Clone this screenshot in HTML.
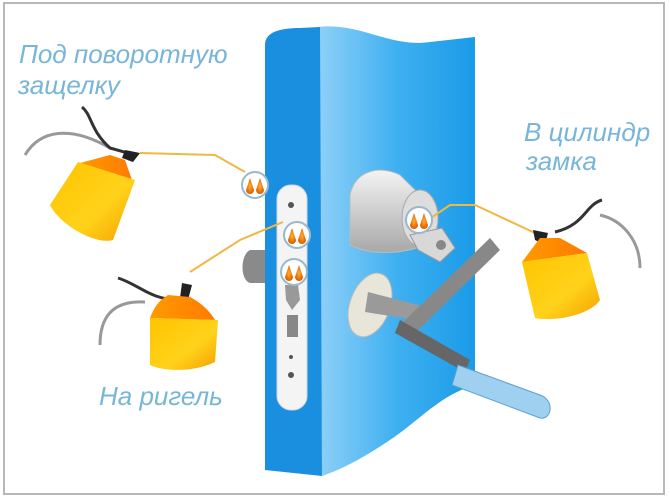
<!DOCTYPE html>
<html><head><meta charset="utf-8"><style>
html,body{margin:0;padding:0;background:#fff;}
svg{display:block;}
text{font-family:"Liberation Sans",sans-serif;font-style:italic;fill:#78b6d8;font-size:26px;}
</style></head><body>
<svg width="670" height="498" viewBox="0 0 670 498" xmlns="http://www.w3.org/2000/svg">
<defs>
<linearGradient id="face" x1="0" x2="1" y1="0" y2="0"><stop offset="0" stop-color="#8fd0f8"/><stop offset="0.5" stop-color="#3fb0f0"/><stop offset="1" stop-color="#1a9be8"/></linearGradient>
<linearGradient id="can" x1="0" x2="1" y1="0" y2="1"><stop offset="0" stop-color="#ffc400"/><stop offset="0.6" stop-color="#ffd21a"/><stop offset="1" stop-color="#f5a000"/></linearGradient>
<linearGradient id="top" x1="0" x2="1"><stop offset="0" stop-color="#ff9a00"/><stop offset="1" stop-color="#ff7a00"/></linearGradient>
<linearGradient id="metal" x1="0" x2="0" y1="0" y2="1"><stop offset="0" stop-color="#f4f4f4"/><stop offset="1" stop-color="#a8a8a8"/></linearGradient>
<radialGradient id="drop"><stop offset="0" stop-color="#ffb030"/><stop offset="1" stop-color="#e06000"/></radialGradient>
<g id="drops"><circle r="13" fill="#fff" stroke="#9ab8cc" stroke-width="2"/><path d="M-5,-7 L-1,5 A4,4 0 0 1 -9,5 Z" fill="url(#drop)"/><path d="M5,-7 L9,5 A4,4 0 0 1 1,5 Z" fill="url(#drop)"/></g>
</defs>
<rect x="0" y="0" width="670" height="498" fill="#fff"/>
<rect x="4" y="3" width="660" height="491" fill="none" stroke="#b8b8b8" stroke-width="2"/>
<path d="M318,27 C360,22 390,48 430,42 L475,37 L475,385 C440,395 420,420 390,440 C360,460 340,470 322,476 Z" fill="url(#face)"/>
<path d="M265,45 C265,32 280,28 300,28 L320,27 L322,476 L265,470 Z" fill="#1a8fe0"/>
<rect x="277" y="185" width="30" height="225" rx="14" fill="#f4f4f4" stroke="#cfd8e0"/>
<circle cx="291" cy="205" r="3" fill="#555"/><circle cx="291" cy="357" r="2" fill="#555"/><circle cx="291" cy="375" r="3" fill="#555"/>
<path d="M285,285 L298,285 L300,300 L292,310 L286,300 Z" fill="#999"/>
<rect x="287" y="315" width="11" height="22" fill="#888"/>
<path d="M250,250 C240,255 240,280 250,283 L265,283 L265,250 Z" fill="#8a8a8a"/>
<path d="M350,195 C355,170 380,165 400,175 L415,190 L425,245 C400,255 370,255 350,245 Z" fill="url(#metal)" stroke="#bbb"/>
<ellipse cx="420" cy="218" rx="18" ry="28" fill="#ddd" stroke="#aaa"/>
<path d="M410,235 L442,228 L455,248 L440,262 L418,250 Z" fill="#d8d8d8" stroke="#999"/>
<circle cx="441" cy="245" r="5" fill="#888"/>
<ellipse cx="370" cy="305" rx="20" ry="33" transform="rotate(20 370 305)" fill="#e8e6d8" stroke="#bbb"/>
<path d="M368,292 L430,308 L428,322 L365,312 Z" fill="#9a9a9a"/>
<path d="M395,330 L490,238 L500,250 L410,338 Z" fill="#888"/>
<path d="M400,320 L470,360 L465,372 L395,333 Z" fill="#666"/>
<path d="M458,365 L540,395 C555,400 552,420 540,418 L452,385 Z" fill="#9fd0f0" stroke="#5aa0d0"/>
<polyline points="140,153 215,155 245,172" fill="none" stroke="#f0b840" stroke-width="2"/>
<polyline points="190,272 240,240 283,222" fill="none" stroke="#f0b840" stroke-width="2"/>
<polyline points="425,222 450,205 475,205 535,233" fill="none" stroke="#f0b840" stroke-width="2"/>
<use href="#drops" x="255" y="185"/>
<use href="#drops" x="297" y="235"/>
<use href="#drops" x="294" y="272"/>
<use href="#drops" x="419" y="220"/>
<path d="M25,155 C40,130 70,125 110,148" fill="none" stroke="#999" stroke-width="3"/>
<path d="M82,107 C92,115 90,130 110,148 L135,155" fill="none" stroke="#333" stroke-width="3"/>
<path d="M125,150 L140,153 L133,162 L122,158 Z" fill="#222"/>
<path d="M110,155 L125,160 L132,180 L80,163 Z" fill="url(#top)"/>
<path d="M78,162 L135,180 L113,240 C95,245 60,225 50,205 Z" fill="url(#can)"/>
<path d="M100,345 C100,320 110,300 145,302" fill="none" stroke="#999" stroke-width="3"/>
<path d="M118,278 C140,285 150,300 180,300" fill="none" stroke="#333" stroke-width="3"/>
<path d="M182,283 L192,285 L188,300 L180,298 Z" fill="#222"/>
<path d="M168,295 L190,297 C205,305 212,315 215,320 L150,318 C155,305 160,300 168,295 Z" fill="url(#top)"/>
<path d="M150,318 L218,320 L215,362 C195,372 165,372 150,365 Z" fill="url(#can)"/>
<path d="M600,215 C622,220 640,240 640,268" fill="none" stroke="#999" stroke-width="3"/>
<path d="M602,200 C585,205 585,225 555,232" fill="none" stroke="#333" stroke-width="3"/>
<path d="M533,230 L548,233 L545,245 L535,240 Z" fill="#222"/>
<path d="M540,238 L560,238 L587,253 L522,262 Z" fill="url(#top)"/>
<path d="M522,262 L587,253 L600,300 C590,315 555,322 535,318 Z" fill="url(#can)"/>
<text x="19" y="63">Под поворотную</text>
<text x="18" y="94">защелку</text>
<text x="524" y="141">В цилиндр</text>
<text x="526" y="170">замка</text>
<text x="99" y="405">На ригель</text>
</svg>
</body></html>
